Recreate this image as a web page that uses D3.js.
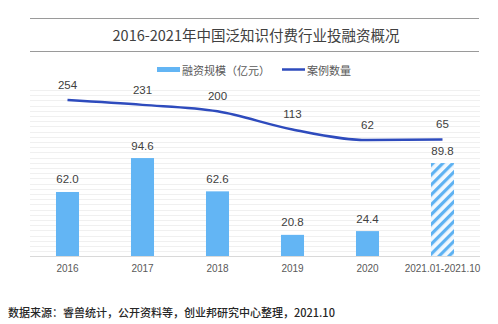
<!DOCTYPE html>
<html><head><meta charset="utf-8">
<script src="https://cdnjs.cloudflare.com/ajax/libs/d3/7.8.5/d3.min.js"></script>
<style>body{margin:0;background:#fff}svg{display:block}</style>
</head><body><div id="c"></div>
<script>
const categories = ["2016","2017","2018","2019","2020","2021.01-2021.10"];
const financing = [62.0, 94.6, 62.6, 20.8, 24.4, 89.8];
const cases = [254, 231, 200, 113, 62, 65];
const barLabels = ["62.0","94.6","62.6","20.8","24.4","89.8"];
const titleText = "2016-2021年中国泛知识付费行业投融资概况";
const legendLabels = ["融资规模（亿元）","案例数量"];
const sourceText = "数据来源：睿兽统计，公开资料等，创业邦研究中心整理，2021.10";

const W=498,H=324;
const font = "'Noto Sans CJK SC','Noto Sans',sans-serif";
const svg=d3.select("#c").append("svg").attr("width",W).attr("height",H);

const defs=svg.append("defs");
const pat=defs.append("pattern").attr("id","hatch").attr("patternUnits","userSpaceOnUse")
  .attr("width",7).attr("height",7).attr("patternTransform","rotate(45)");
pat.append("rect").attr("width",7).attr("height",7).attr("fill","#f2f9ff");
pat.append("rect").attr("x",0).attr("width",3.2).attr("height",7).attr("fill","#5eb2f2");

// title lines
svg.append("line").attr("x1",30).attr("x2",479).attr("y1",18.5).attr("y2",18.5).attr("stroke","#9a9a9a").attr("stroke-width",1);
svg.append("line").attr("x1",30).attr("x2",479).attr("y1",51.5).attr("y2",51.5).attr("stroke","#9a9a9a").attr("stroke-width",1);
svg.append("text").attr("x",256).attr("y",41).attr("text-anchor","middle").attr("font-family",font)
  .attr("font-size",14.5).attr("fill","#404040").text(titleText);

const x=d3.scaleBand().domain(categories).range([30,480]).paddingInner(0.693).paddingOuter(0.3465);
const yBar=d3.scaleLinear().domain([0,160]).range([256.5,90]);
const yLine=d3.scaleLinear().domain([0,300]).range([153,90.5]);

// faint gridlines
svg.append("g").selectAll("line").data(d3.range(5,161,5)).join("line")
  .attr("x1",30).attr("x2",480).attr("y1",d=>Math.round(yBar(d))+0.5).attr("y2",d=>Math.round(yBar(d))+0.5)
  .attr("stroke","#f0f0f0").attr("stroke-width",1);

// bars
svg.append("g").selectAll("rect").data(financing).join("rect")
  .attr("x",(d,i)=>x(categories[i])).attr("width",x.bandwidth())
  .attr("y",d=>yBar(d)).attr("height",d=>yBar(0)-yBar(d))
  .attr("fill",(d,i)=>i===categories.length-1?"url(#hatch)":"#63b5f4");

svg.append("g").selectAll("text").data(financing).join("text")
  .attr("x",(d,i)=>x(categories[i])+x.bandwidth()/2).attr("y",d=>yBar(d)-8.5)
  .attr("text-anchor","middle").attr("font-family","'Liberation Sans',Arial,sans-serif").attr("font-size",11.5).attr("fill","#404040")
  .text((d,i)=>barLabels[i]);

// axis
const xAxis=svg.append("g").attr("transform","translate(0,256.5)").call(d3.axisBottom(x).tickSize(0).tickPadding(8));
xAxis.select(".domain").attr("stroke","#d9d9d9").attr("d","M30,0H480");
xAxis.selectAll("text").attr("font-family","'Liberation Sans',Arial,sans-serif").attr("font-size",10).attr("fill","#595959");

// line
const cx=(i)=>x(categories[i])+x.bandwidth()/2;
const line=d3.line().x((d,i)=>cx(i)).y(d=>yLine(d)).curve(d3.curveMonotoneX);
svg.append("path").datum(cases).attr("d",line).attr("fill","none").attr("stroke","#2e4bbd").attr("stroke-width",2.5);
svg.append("g").selectAll("text").data(cases).join("text")
  .attr("x",(d,i)=>cx(i)).attr("y",d=>yLine(d)-11)
  .attr("text-anchor","middle").attr("font-family","'Liberation Sans',Arial,sans-serif").attr("font-size",11.5).attr("fill","#404040")
  .text(d=>d);

// legend
const lg=svg.append("g");
lg.append("rect").attr("x",157).attr("y",67).attr("width",23).attr("height",5).attr("fill","#63b5f4");
lg.append("text").attr("x",182).attr("y",74.5).attr("font-family",font).attr("font-size",11).attr("fill","#595959").text(legendLabels[0]);
lg.append("line").attr("x1",282).attr("x2",305).attr("y1",69.5).attr("y2",69.5).attr("stroke","#2e4bbd").attr("stroke-width",2.5);
lg.append("text").attr("x",307).attr("y",74.5).attr("font-family",font).attr("font-size",11).attr("fill","#595959").text(legendLabels[1]);

// source
svg.append("text").attr("x",8).attr("y",317).attr("font-family",font).attr("font-size",11).attr("font-weight",500)
  .attr("fill","#262626").text(sourceText);
</script></body></html>
